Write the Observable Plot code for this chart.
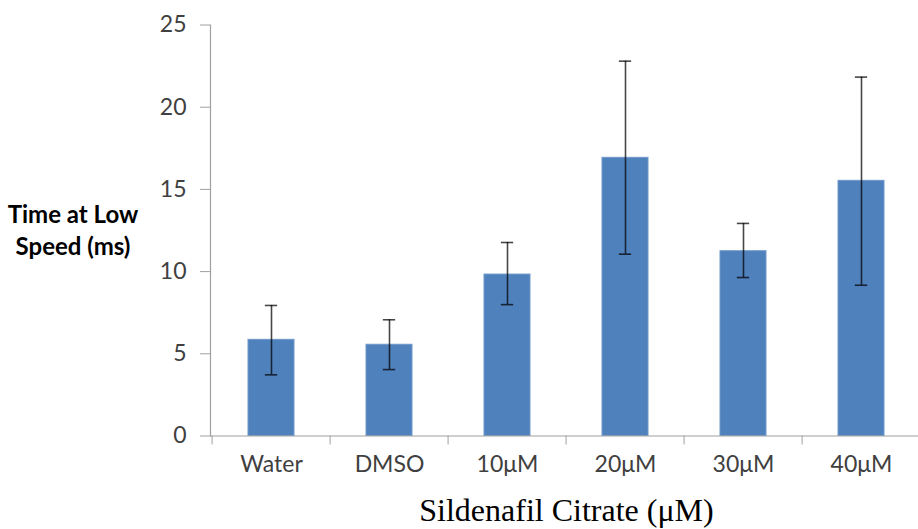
<!DOCTYPE html>
<html>
<head>
<meta charset="utf-8">
<script src="https://cdn.jsdelivr.net/npm/d3@7"></script>
<script src="https://cdn.jsdelivr.net/npm/@observablehq/plot@0.6"></script>
<style>
  html, body { margin: 0; padding: 0; background: #fff; }
  #wrap { position: relative; width: 918px; height: 529px; overflow: hidden; }
  #ylab { position: absolute; left: 4px; width: 138px; text-align: center; top: 198px; font-family: Lato, "Open Sans", sans-serif; font-weight: bold; font-size: 24px; line-height: 32px; color: #000; }
  #xlab { position: absolute; left: 210px; width: 713px; top: 490px; text-align: center; font-family: "Liberation Serif", "DejaVu Serif", serif; font-size: 32px; line-height: 40px; color: #000; }
  #chart svg text { font-size: 23px; }
</style>
</head>
<body>
<div id="wrap">
  <div id="chart"></div>
  <div id="ylab">Time at Low<br>Speed (ms)</div>
  <div id="xlab">Sildenafil Citrate (μM)</div>
</div>
<script>
const categories = ["Water", "DMSO", "10μM", "20μM", "30μM", "40μM"];
const means = [5.85, 5.55, 9.82, 16.92, 11.24, 15.52];
const errLow = [3.72, 4.04, 7.99, 11.06, 9.64, 9.17];
const errHigh = [7.94, 7.07, 11.77, 22.8, 12.93, 21.83];
const yTicks = [0, 5, 10, 15, 20, 25];

const data = categories.map((c, i) => ({cat: c, v: means[i], lo: errLow[i], hi: errHigh[i]}));

const xRange = [210, 923];
const step = (xRange[1] - xRange[0]) / categories.length;
const pad = 0.607;
const capInset = (step * (1 - pad) - 13) / 2;

const plot = Plot.plot({
  width: 918,
  height: 529,
  marginTop: 24.5,
  marginBottom: 93.5,
  marginLeft: 210,
  marginRight: -5,
  style: {fontFamily: "Lato, 'Open Sans', sans-serif", fontSize: "23px", color: "#404040", background: "#fff", overflow: "hidden"},
  x: {domain: categories, range: xRange, paddingInner: pad, paddingOuter: pad / 2, label: null},
  y: {domain: [0, 25], label: null},
  marks: [
    Plot.barY(data, {x: "cat", y: "v", fill: "#4F81BD", stroke: "#6f97c9", strokeWidth: 1}),
    Plot.ruleX(data, {x: "cat", y1: "lo", y2: "hi", stroke: "#000", strokeOpacity: 0.72, strokeWidth: 1.6}),
    Plot.tickY(data, {x: "cat", y: "hi", stroke: "#000", strokeOpacity: 0.72, strokeWidth: 1.6, inset: capInset}),
    Plot.tickY(data, {x: "cat", y: "lo", stroke: "#000", strokeOpacity: 0.72, strokeWidth: 1.6, inset: capInset}),
    Plot.axisY({ticks: yTicks, tickSize: 10, tickPadding: 14, stroke: "#a0a0a0", fill: "#404040", tickFormat: d => String(d)}),
    Plot.frame({anchor: "left", stroke: "#a0a0a0", strokeWidth: 1.2}),
    Plot.ruleY([0], {stroke: "#a0a0a0", strokeWidth: 1.2}),
    Plot.axisX({ticks: categories, tickSize: 9, text: null, stroke: "#a0a0a0", dx: -step / 2}),
    Plot.axisX({ticks: categories, tickSize: 0, tickPadding: 20, fill: "#404040"})
  ]
});
document.getElementById("chart").appendChild(plot);
</script>
</body>
</html>
